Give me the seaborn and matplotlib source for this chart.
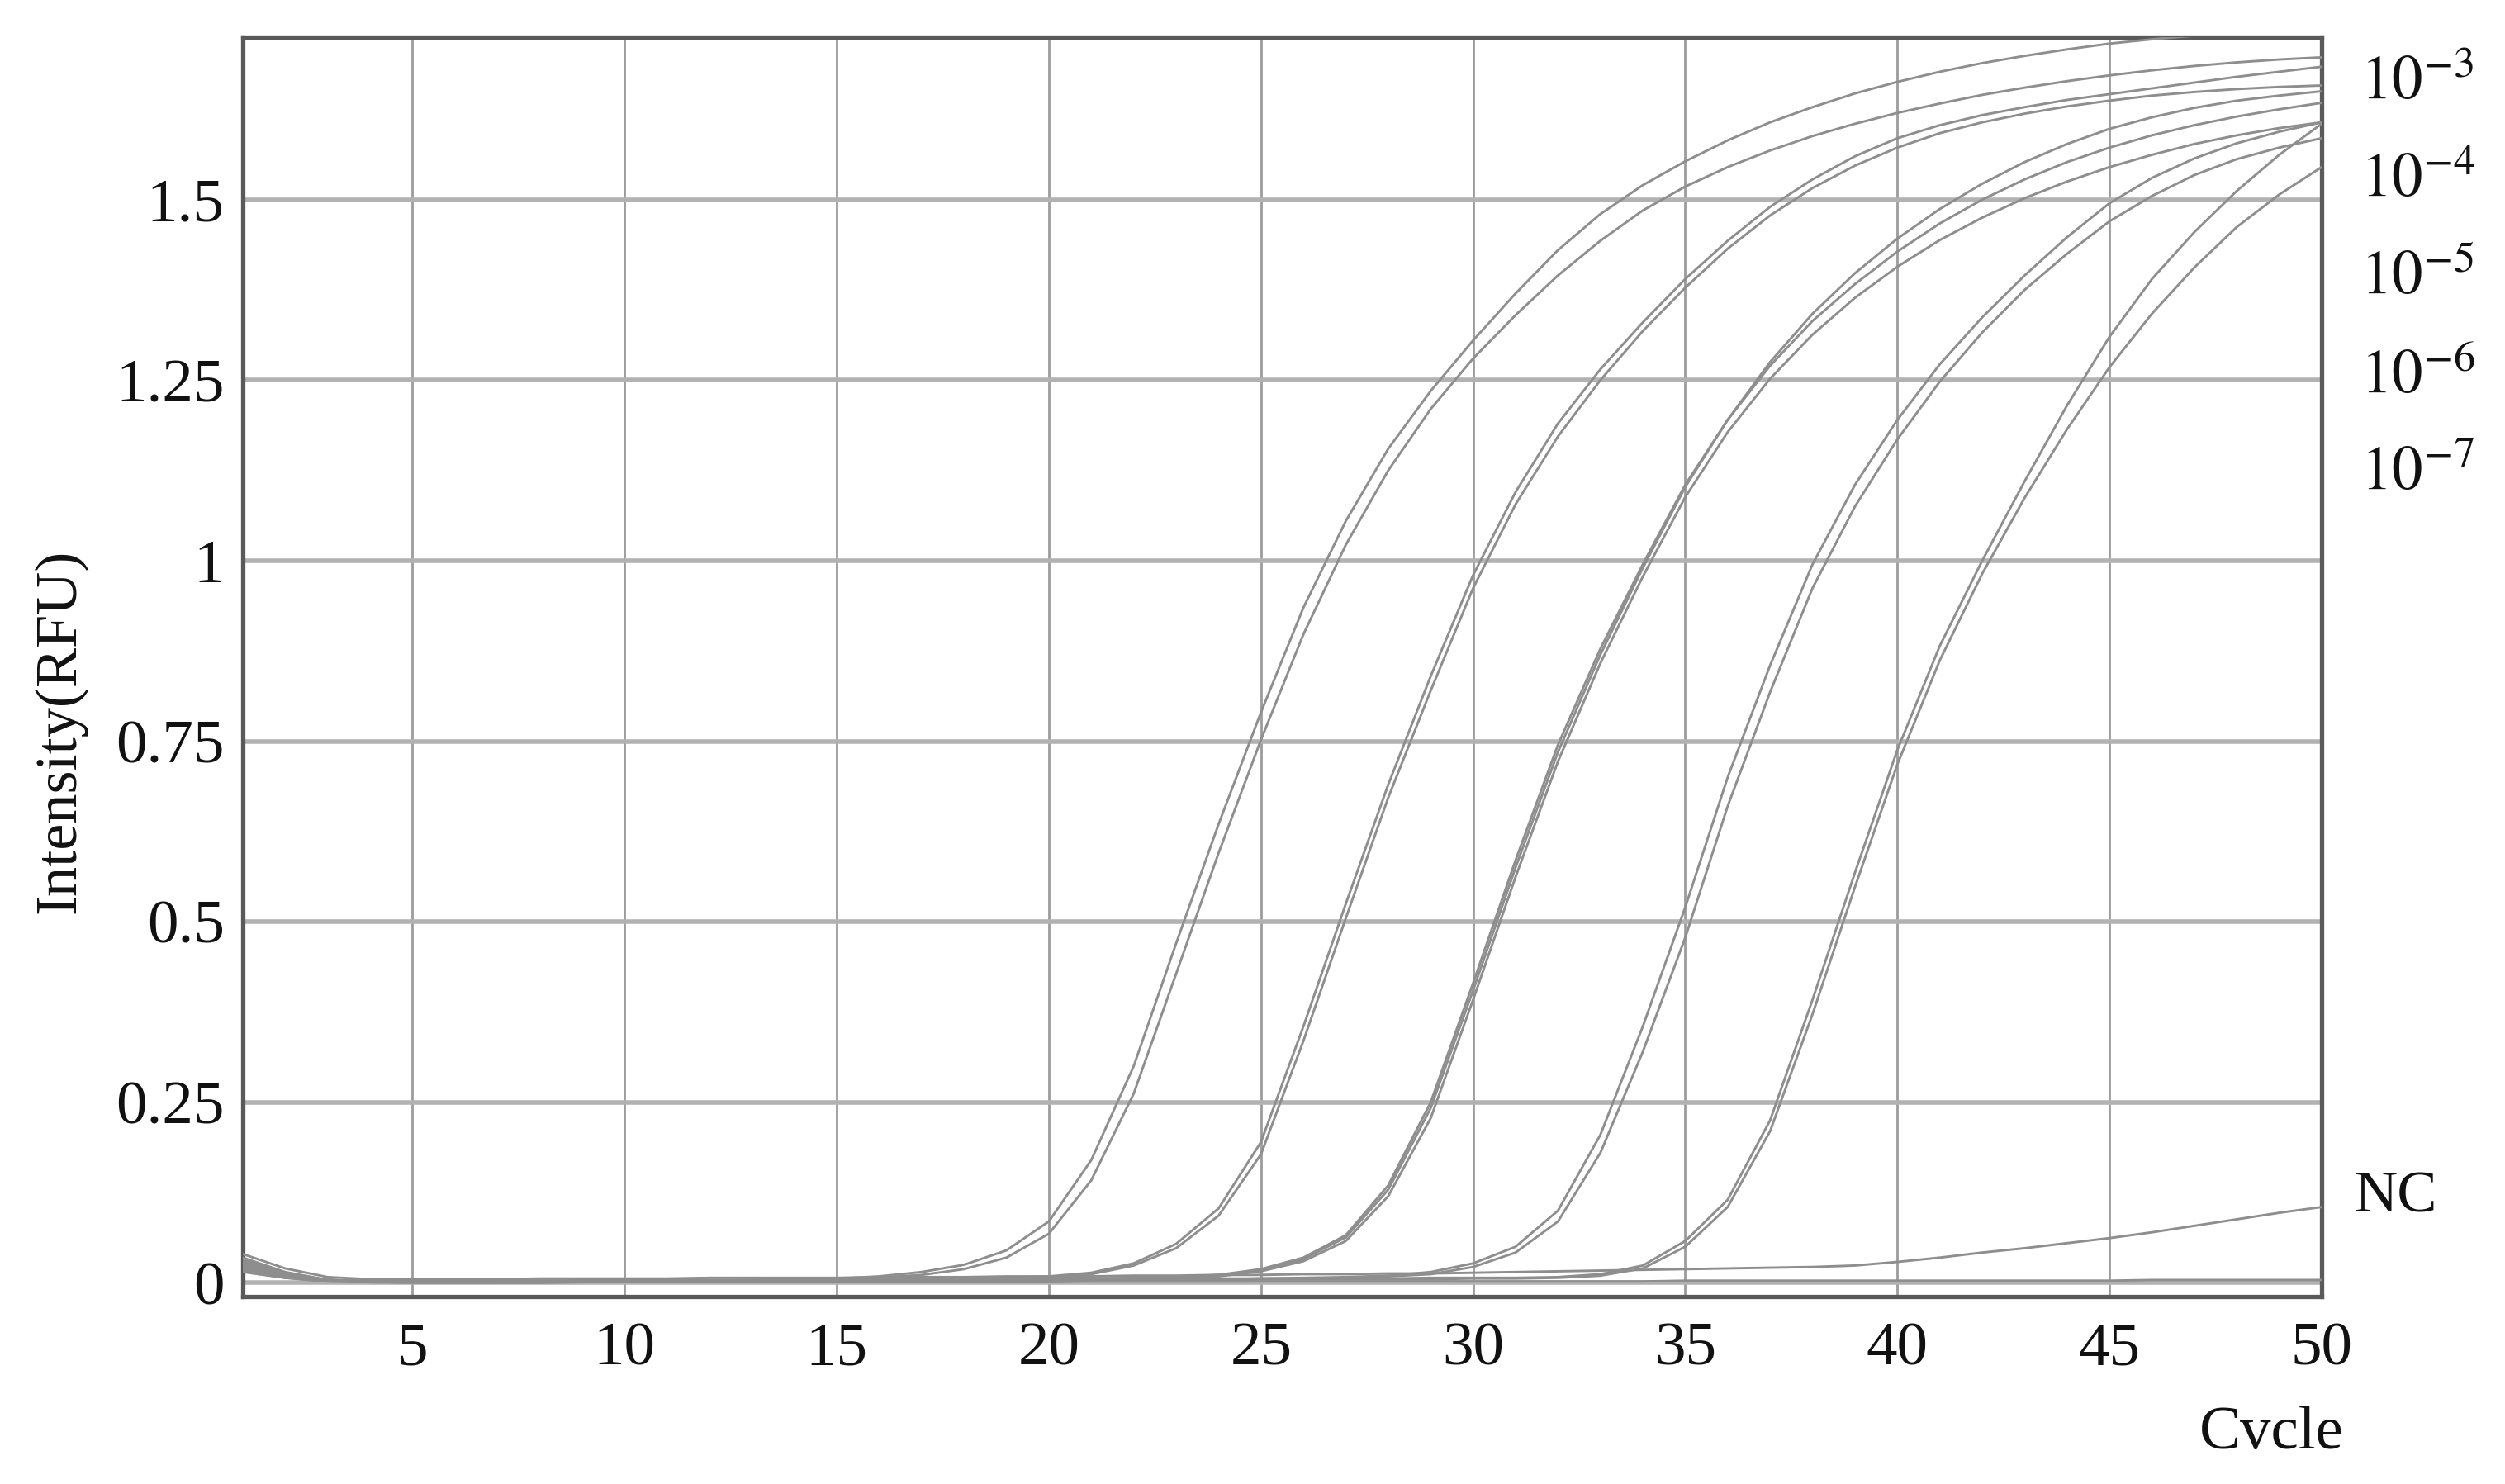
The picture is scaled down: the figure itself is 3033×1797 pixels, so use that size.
import matplotlib
matplotlib.use("Agg")
import matplotlib.pyplot as plt
from matplotlib.ticker import MultipleLocator, FixedLocator
import numpy as np
import pandas as pd
import seaborn as sns

# ---------------- data ----------------
cycles = list(range(1, 51))

dil_1e3_a = [0.032, 0.014, 0.004, 0.002, 0.002, 0.002, 0.003, 0.003, 0.003, 0.003,
             0.004, 0.004, 0.004, 0.005, 0.006, 0.009, 0.015, 0.025, 0.045, 0.085,
             0.170, 0.300, 0.470, 0.635, 0.790, 0.935, 1.055, 1.155, 1.235, 1.305,
             1.370, 1.430, 1.480, 1.520, 1.553, 1.582, 1.607, 1.628, 1.647, 1.663,
             1.677, 1.689, 1.699, 1.708, 1.716, 1.722, 1.727, 1.731, 1.735, 1.738]
dil_1e3_b = [0.022, 0.010, 0.003, 0.001, 0.001, 0.001, 0.002, 0.002, 0.002, 0.002,
             0.003, 0.003, 0.003, 0.004, 0.005, 0.007, 0.011, 0.019, 0.035, 0.068,
             0.142, 0.262, 0.428, 0.595, 0.752, 0.898, 1.022, 1.125, 1.210, 1.280,
             1.340, 1.395, 1.443, 1.485, 1.518, 1.545, 1.568, 1.588, 1.605, 1.620,
             1.633, 1.645, 1.655, 1.664, 1.672, 1.679, 1.685, 1.690, 1.694, 1.697]
dil_1e4_a = [0.028, 0.012, 0.004, 0.002, 0.002, 0.002, 0.002, 0.002, 0.003, 0.003,
             0.003, 0.003, 0.003, 0.004, 0.004, 0.004, 0.005, 0.006, 0.007, 0.009,
             0.014, 0.027, 0.054, 0.103, 0.195, 0.355, 0.525, 0.690, 0.840, 0.980,
             1.095, 1.190, 1.265, 1.330, 1.390, 1.443, 1.490, 1.528, 1.560, 1.585,
             1.603, 1.617, 1.628, 1.638, 1.646, 1.654, 1.662, 1.670, 1.677, 1.684]
dil_1e4_b = [0.018, 0.008, 0.003, 0.001, 0.001, 0.001, 0.002, 0.002, 0.002, 0.002,
             0.002, 0.003, 0.003, 0.003, 0.003, 0.004, 0.004, 0.005, 0.006, 0.008,
             0.012, 0.024, 0.048, 0.093, 0.178, 0.335, 0.505, 0.672, 0.820, 0.962,
             1.078, 1.172, 1.250, 1.318, 1.378, 1.432, 1.478, 1.516, 1.547, 1.572,
             1.592, 1.607, 1.619, 1.629, 1.637, 1.644, 1.649, 1.653, 1.656, 1.658]
dil_1e5_a = [0.025, 0.011, 0.004, 0.002, 0.002, 0.002, 0.002, 0.003, 0.003, 0.003,
             0.003, 0.003, 0.004, 0.004, 0.004, 0.004, 0.005, 0.005, 0.005, 0.006,
             0.006, 0.007, 0.008, 0.011, 0.019, 0.035, 0.066, 0.135, 0.250, 0.415,
             0.585, 0.745, 0.878, 0.995, 1.105, 1.195, 1.270, 1.332, 1.383, 1.428,
             1.467, 1.500, 1.528, 1.552, 1.572, 1.589, 1.603, 1.615, 1.625, 1.634]
dil_1e5_b = [0.015, 0.007, 0.002, 0.001, 0.001, 0.001, 0.001, 0.002, 0.002, 0.002,
             0.002, 0.002, 0.003, 0.003, 0.003, 0.003, 0.004, 0.004, 0.004, 0.005,
             0.005, 0.006, 0.007, 0.009, 0.016, 0.030, 0.058, 0.120, 0.228, 0.392,
             0.562, 0.722, 0.858, 0.978, 1.088, 1.178, 1.252, 1.313, 1.364, 1.407,
             1.444, 1.475, 1.502, 1.525, 1.545, 1.562, 1.577, 1.589, 1.599, 1.607]
dil_1e5_c = [0.020, 0.009, 0.003, 0.002, 0.002, 0.002, 0.002, 0.002, 0.002, 0.003,
             0.003, 0.003, 0.003, 0.003, 0.004, 0.004, 0.004, 0.005, 0.005, 0.005,
             0.006, 0.006, 0.007, 0.010, 0.018, 0.033, 0.063, 0.129, 0.242, 0.405,
             0.575, 0.735, 0.870, 0.990, 1.102, 1.195, 1.275, 1.342, 1.398, 1.446,
             1.487, 1.522, 1.552, 1.577, 1.598, 1.614, 1.627, 1.637, 1.644, 1.650]
dil_1e6_a = [0.030, 0.013, 0.004, 0.002, 0.002, 0.002, 0.002, 0.002, 0.003, 0.003,
             0.003, 0.003, 0.003, 0.003, 0.004, 0.004, 0.004, 0.004, 0.005, 0.005,
             0.005, 0.005, 0.006, 0.006, 0.006, 0.007, 0.008, 0.010, 0.015, 0.027,
             0.050, 0.100, 0.205, 0.355, 0.520, 0.700, 0.855, 0.995, 1.105, 1.195,
             1.272, 1.337, 1.395, 1.448, 1.495, 1.530, 1.557, 1.578, 1.594, 1.607]
dil_1e6_b = [0.020, 0.009, 0.003, 0.001, 0.001, 0.001, 0.002, 0.002, 0.002, 0.002,
             0.002, 0.002, 0.003, 0.003, 0.003, 0.003, 0.003, 0.004, 0.004, 0.004,
             0.004, 0.005, 0.005, 0.005, 0.006, 0.006, 0.007, 0.009, 0.012, 0.022,
             0.042, 0.085, 0.180, 0.320, 0.478, 0.660, 0.818, 0.962, 1.075, 1.168,
             1.248, 1.316, 1.375, 1.425, 1.470, 1.505, 1.534, 1.556, 1.572, 1.585]
dil_1e7_a = [0.026, 0.012, 0.004, 0.002, 0.002, 0.002, 0.002, 0.002, 0.002, 0.003,
             0.003, 0.003, 0.003, 0.003, 0.003, 0.004, 0.004, 0.004, 0.004, 0.004,
             0.005, 0.005, 0.005, 0.005, 0.006, 0.006, 0.006, 0.006, 0.007, 0.007,
             0.007, 0.008, 0.012, 0.024, 0.058, 0.115, 0.225, 0.392, 0.568, 0.738,
             0.882, 1.000, 1.110, 1.215, 1.310, 1.390, 1.455, 1.512, 1.562, 1.605]
dil_1e7_b = [0.016, 0.007, 0.002, 0.001, 0.001, 0.001, 0.001, 0.001, 0.002, 0.002,
             0.002, 0.002, 0.002, 0.002, 0.003, 0.003, 0.003, 0.003, 0.003, 0.003,
             0.004, 0.004, 0.004, 0.004, 0.005, 0.005, 0.005, 0.005, 0.005, 0.006,
             0.006, 0.007, 0.010, 0.020, 0.050, 0.105, 0.210, 0.372, 0.548, 0.718,
             0.862, 0.982, 1.087, 1.182, 1.268, 1.342, 1.406, 1.462, 1.507, 1.545]
nc_curve = [0.040, 0.020, 0.008, 0.005, 0.005, 0.005, 0.005, 0.006, 0.006, 0.006,
            0.006, 0.007, 0.007, 0.007, 0.007, 0.008, 0.008, 0.008, 0.009, 0.009,
            0.009, 0.010, 0.010, 0.011, 0.011, 0.012, 0.012, 0.013, 0.013, 0.014,
            0.015, 0.016, 0.017, 0.018, 0.019, 0.020, 0.021, 0.022, 0.024, 0.029,
            0.035, 0.042, 0.048, 0.055, 0.062, 0.070, 0.079, 0.088, 0.097, 0.105]
blank_curve = [0.035, 0.015, 0.004, 0.001, 0.000, 0.000, 0.000, 0.000, 0.001, 0.001,
               0.001, 0.001, 0.001, 0.001, 0.001, 0.001, 0.001, 0.001, 0.001, 0.001,
               0.002, 0.002, 0.002, 0.002, 0.002, 0.002, 0.002, 0.002, 0.002, 0.002,
               0.002, 0.002, 0.002, 0.002, 0.003, 0.003, 0.003, 0.003, 0.003, 0.003,
               0.003, 0.003, 0.003, 0.003, 0.003, 0.004, 0.004, 0.004, 0.004, 0.004]

curves = {
    "1e-3 a": dil_1e3_a, "1e-3 b": dil_1e3_b,
    "1e-4 a": dil_1e4_a, "1e-4 b": dil_1e4_b,
    "1e-5 a": dil_1e5_a, "1e-5 b": dil_1e5_b, "1e-5 c": dil_1e5_c,
    "1e-6 a": dil_1e6_a, "1e-6 b": dil_1e6_b,
    "1e-7 a": dil_1e7_a, "1e-7 b": dil_1e7_b,
    "NC": nc_curve, "blank": blank_curve,
}

x_ticks = [5, 10, 15, 20, 25, 30, 35, 40, 45, 50]
y_ticks = [0, 0.25, 0.5, 0.75, 1, 1.25, 1.5]
y_tick_labels = ["0", "0.25", "0.5", "0.75", "1", "1.25", "1.5"]
dilution_labels = [r"$10^{-3}$", r"$10^{-4}$", r"$10^{-5}$", r"$10^{-6}$", r"$10^{-7}$"]
dilution_label_y = [1.660, 1.525, 1.390, 1.253, 1.118]
nc_label = "NC"
nc_label_y = 0.118

# ---------------- build table ----------------
rows = []
for name, vals in curves.items():
    assert len(vals) == len(cycles), name
    for c, v in zip(cycles, vals):
        rows.append((name, c, v))
df = pd.DataFrame(rows, columns=["curve", "cycle", "value"])

# ---------------- style ----------------
sns.set_style("white")
plt.rcParams["font.family"] = ["Liberation Serif", "DejaVu Serif"]
plt.rcParams["mathtext.fontset"] = "stix"

fig = plt.figure(figsize=(15.165, 8.985), dpi=200)
ax = fig.add_axes([0.0969, 0.1263, 0.8299, 0.8487])

palette = {name: "#8e8e8e" for name in curves}
sns.lineplot(data=df, x="cycle", y="value", hue="curve", palette=palette,
             estimator=None, legend=False, linewidth=1.05, ax=ax, zorder=3)

ax.set_xlim(1, 50)
ax.set_ylim(-0.019, 1.725)

ax.xaxis.set_major_locator(FixedLocator(x_ticks))
ax.xaxis.set_minor_locator(MultipleLocator(1))
ax.yaxis.set_major_locator(FixedLocator(y_ticks))
ax.yaxis.set_minor_locator(MultipleLocator(0.05))
ax.set_xticklabels([str(t) for t in x_ticks])
ax.set_yticklabels(y_tick_labels)

# grid
for xv in x_ticks[:-1]:
    ax.axvline(xv, color="#9c9c9c", lw=1.0, zorder=1)
for yv in y_ticks:
    ax.axhline(yv, color="#b2b2b2", lw=2.0, zorder=1)

for sp in ax.spines.values():
    sp.set_color("#5a5a5a")
    sp.set_linewidth(1.9)
    sp.set_visible(True)

ax.tick_params(axis="both", which="major", direction="out", length=5, width=1.4,
               color="#5a5a5a", labelsize=27, labelcolor="#111111")
ax.tick_params(axis="both", which="minor", direction="out", length=3.5, width=1.2,
               color="#6a6a6a")
ax.tick_params(axis="x", which="major", pad=6)
ax.tick_params(axis="y", which="major", pad=3)

ax.set_xlabel("Cvcle", fontsize=27, color="#111111")
ax.xaxis.set_label_coords(0.976, -0.087)
ax.set_ylabel("Intensity(RFU)", fontsize=26, color="#111111")
ax.yaxis.label.set(ha="center", va="center")
ax.yaxis.set_label_coords(-0.088, 0.449)

trans = ax.get_yaxis_transform()
for lab, yv in zip(dilution_labels, dilution_label_y):
    ax.text(1.0187, yv, lab, transform=trans, fontsize=27, ha="left", va="center",
            color="#111111", clip_on=False)
ax.text(1.016, nc_label_y, nc_label, transform=trans, fontsize=26, ha="left",
        va="center", color="#111111", clip_on=False)

fig.savefig("out.png", dpi=200, facecolor="white")
